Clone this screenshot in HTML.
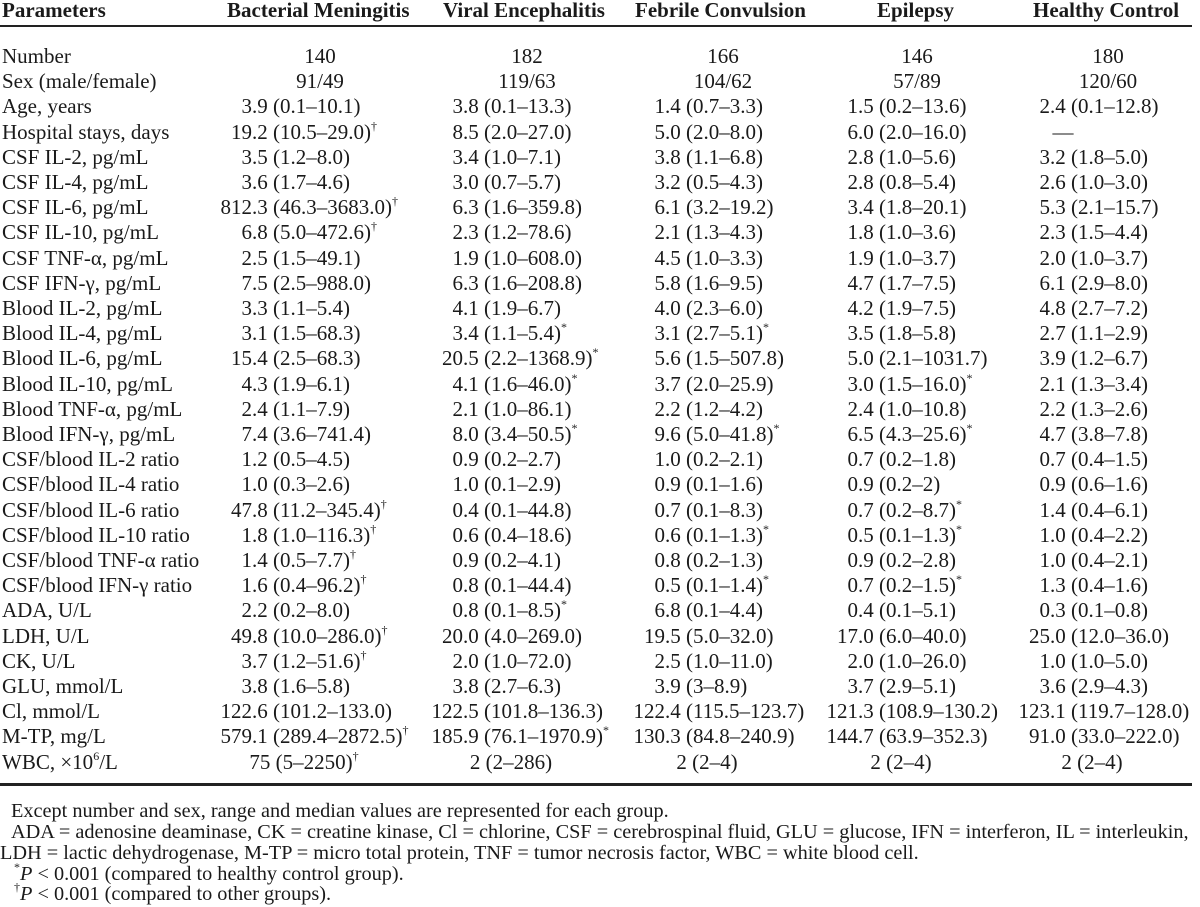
<!DOCTYPE html>
<html><head><meta charset="utf-8">
<style>
html,body{margin:0;padding:0;background:#fff;}
#wrap{position:relative;width:1200px;height:907px;overflow:hidden;font-family:"Liberation Serif","Times New Roman",serif;color:#1a1a1a;}
.hd{position:absolute;top:-2px;font-weight:bold;font-size:21px;line-height:24px;white-space:nowrap;}
.row{position:absolute;left:0;width:1200px;height:24px;font-size:21px;line-height:24px;white-space:nowrap;}
.row span{position:absolute;top:0;white-space:pre;}
.lbl{left:2px;}
sup{font-size:12px;line-height:0;vertical-align:9px;}
.rule{position:absolute;left:0;width:1192px;height:2px;background:#222;}
.fn{position:absolute;font-size:20.3px;line-height:22px;white-space:nowrap;}
</style></head>
<body>
<div id="wrap">
  <div class="hd" style="left:2px">Parameters</div>
  <div class="hd" style="left:227px">Bacterial Meningitis</div>
  <div class="hd" style="left:443px">Viral Encephalitis</div>
  <div class="hd" style="left:635px">Febrile Convulsion</div>
  <div class="hd" style="left:877px">Epilepsy</div>
  <div class="hd" style="left:1033px">Healthy Control</div>
  <div class="rule" style="top:25px"></div>
  <div id="body"></div>
  <div class="rule" style="top:783px;height:2.5px"></div>
  <div class="fn" style="left:11px;top:800px">Except number and sex, range and median values are represented for each group.</div>
  <div class="fn" style="left:11px;top:821px">ADA = adenosine deaminase, CK = creatine kinase, Cl = chlorine, CSF = cerebrospinal fluid, GLU = glucose, IFN = interferon, IL = interleukin,</div>
  <div class="fn" style="left:0px;top:842px">LDH = lactic dehydrogenase, M-TP = micro total protein, TNF = tumor necrosis factor, WBC = white blood cell.</div>
  <div class="fn" style="left:14px;top:863px"><sup>*</sup><i>P</i> &lt; 0.001 (compared to healthy control group).</div>
  <div class="fn" style="left:14px;top:883px"><sup>†</sup><i>P</i> &lt; 0.001 (compared to other groups).</div>
</div>
<script>
const labels=["Number","Sex (male/female)","Age, years","Hospital stays, days","CSF IL-2, pg/mL","CSF IL-4, pg/mL","CSF IL-6, pg/mL","CSF IL-10, pg/mL","CSF TNF-α, pg/mL","CSF IFN-γ, pg/mL","Blood IL-2, pg/mL","Blood IL-4, pg/mL","Blood IL-6, pg/mL","Blood IL-10, pg/mL","Blood TNF-α, pg/mL","Blood IFN-γ, pg/mL","CSF/blood IL-2 ratio","CSF/blood IL-4 ratio","CSF/blood IL-6 ratio","CSF/blood IL-10 ratio","CSF/blood TNF-α ratio","CSF/blood IFN-γ ratio","ADA, U/L","LDH, U/L","CK, U/L","GLU, mmol/L","Cl, mmol/L","M-TP, mg/L","WBC, ×10<sup>6</sup>/L"];
const bacterial=["140","91/49","3.9 (0.1–10.1)","19.2 (10.5–29.0)†","3.5 (1.2–8.0)","3.6 (1.7–4.6)","812.3 (46.3–3683.0)†","6.8 (5.0–472.6)†","2.5 (1.5–49.1)","7.5 (2.5–988.0)","3.3 (1.1–5.4)","3.1 (1.5–68.3)","15.4 (2.5–68.3)","4.3 (1.9–6.1)","2.4 (1.1–7.9)","7.4 (3.6–741.4)","1.2 (0.5–4.5)","1.0 (0.3–2.6)","47.8 (11.2–345.4)†","1.8 (1.0–116.3)†","1.4 (0.5–7.7)†","1.6 (0.4–96.2)†","2.2 (0.2–8.0)","49.8 (10.0–286.0)†","3.7 (1.2–51.6)†","3.8 (1.6–5.8)","122.6 (101.2–133.0)","579.1 (289.4–2872.5)†","75 (5–2250)†"];
const viral=["182","119/63","3.8 (0.1–13.3)","8.5 (2.0–27.0)","3.4 (1.0–7.1)","3.0 (0.7–5.7)","6.3 (1.6–359.8)","2.3 (1.2–78.6)","1.9 (1.0–608.0)","6.3 (1.6–208.8)","4.1 (1.9–6.7)","3.4 (1.1–5.4)*","20.5 (2.2–1368.9)*","4.1 (1.6–46.0)*","2.1 (1.0–86.1)","8.0 (3.4–50.5)*","0.9 (0.2–2.7)","1.0 (0.1–2.9)","0.4 (0.1–44.8)","0.6 (0.4–18.6)","0.9 (0.2–4.1)","0.8 (0.1–44.4)","0.8 (0.1–8.5)*","20.0 (4.0–269.0)","2.0 (1.0–72.0)","3.8 (2.7–6.3)","122.5 (101.8–136.3)","185.9 (76.1–1970.9)*","2 (2–286)"];
const febrile=["166","104/62","1.4 (0.7–3.3)","5.0 (2.0–8.0)","3.8 (1.1–6.8)","3.2 (0.5–4.3)","6.1 (3.2–19.2)","2.1 (1.3–4.3)","4.5 (1.0–3.3)","5.8 (1.6–9.5)","4.0 (2.3–6.0)","3.1 (2.7–5.1)*","5.6 (1.5–507.8)","3.7 (2.0–25.9)","2.2 (1.2–4.2)","9.6 (5.0–41.8)*","1.0 (0.2–2.1)","0.9 (0.1–1.6)","0.7 (0.1–8.3)","0.6 (0.1–1.3)*","0.8 (0.2–1.3)","0.5 (0.1–1.4)*","6.8 (0.1–4.4)","19.5 (5.0–32.0)","2.5 (1.0–11.0)","3.9 (3–8.9)","122.4 (115.5–123.7)","130.3 (84.8–240.9)","2 (2–4)"];
const epilepsy=["146","57/89","1.5 (0.2–13.6)","6.0 (2.0–16.0)","2.8 (1.0–5.6)","2.8 (0.8–5.4)","3.4 (1.8–20.1)","1.8 (1.0–3.6)","1.9 (1.0–3.7)","4.7 (1.7–7.5)","4.2 (1.9–7.5)","3.5 (1.8–5.8)","5.0 (2.1–1031.7)","3.0 (1.5–16.0)*","2.4 (1.0–10.8)","6.5 (4.3–25.6)*","0.7 (0.2–1.8)","0.9 (0.2–2)","0.7 (0.2–8.7)*","0.5 (0.1–1.3)*","0.9 (0.2–2.8)","0.7 (0.2–1.5)*","0.4 (0.1–5.1)","17.0 (6.0–40.0)","2.0 (1.0–26.0)","3.7 (2.9–5.1)","121.3 (108.9–130.2)","144.7 (63.9–352.3)","2 (2–4)"];
const healthy=["180","120/60","2.4 (0.1–12.8)","—","3.2 (1.8–5.0)","2.6 (1.0–3.0)","5.3 (2.1–15.7)","2.3 (1.5–4.4)","2.0 (1.0–3.7)","6.1 (2.9–8.0)","4.8 (2.7–7.2)","2.7 (1.1–2.9)","3.9 (1.2–6.7)","2.1 (1.3–3.4)","2.2 (1.3–2.6)","4.7 (3.8–7.8)","0.7 (0.4–1.5)","0.9 (0.6–1.6)","1.4 (0.4–6.1)","1.0 (0.4–2.2)","1.0 (0.4–2.1)","1.3 (0.4–1.6)","0.3 (0.1–0.8)","25.0 (12.0–36.0)","1.0 (1.0–5.0)","3.6 (2.9–4.3)","123.1 (119.7–128.0)","91.0 (33.0–222.0)","2 (2–4)"];
const groups=[["bacterial",bacterial],["viral",viral],["febrile",febrile],["epilepsy",epilepsy],["healthy",healthy]];
const decX=[252,463,665,858,1050];
const ctrX=[320,527,723,917,1108];
const rowTop=56, pitch=25.2;
function fmt(s){return s.replace(/†/g,'<sup>†</sup>').replace(/\*/g,'<sup>*</sup>');}
const body=document.getElementById('body');
labels.forEach((lab,i)=>{
  const r=document.createElement('div');
  r.className='row';
  r.style.top=(rowTop+i*pitch-12)+'px';
  
  
  const l=document.createElement('span');
  l.className='lbl';
  l.innerHTML=lab;
  
  
  r.appendChild(l);
  groups.forEach(([g,arr],c)=>{
    const v=arr[i];
    const m=v.match(/^(\d+)(\..*)$/);
    if(!m){
      const s=document.createElement('span');
      s.innerHTML=fmt(v);
      let cx=ctrX[c];
      if(v==='—') cx=decX[c]+13;
      else if(i>=2) cx=ctrX[c]-16;
      s.style.left=(cx-100)+'px';
      s.style.width='200px';
      s.style.textAlign='center';
      
      
      r.appendChild(s);
    } else {
      const a=document.createElement('span');
      a.textContent=m[1];
      a.style.right=(1200-decX[c])+'px';
      
      
      const b=document.createElement('span');
      b.innerHTML=fmt(m[2]);
      b.style.left=decX[c]+'px';
      
      
      r.appendChild(a);r.appendChild(b);
    }
  });
  body.appendChild(r);
});
</script>
</body></html>
